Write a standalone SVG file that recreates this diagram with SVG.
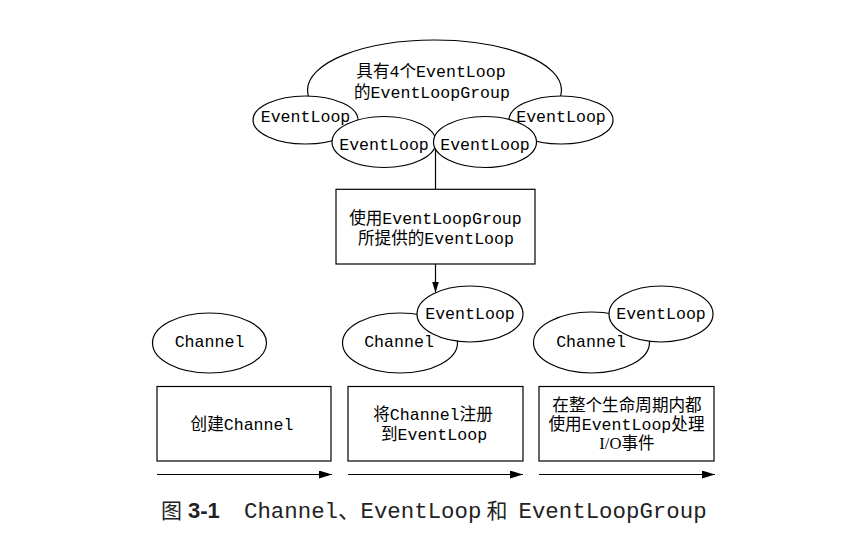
<svg xmlns="http://www.w3.org/2000/svg" width="855" height="538" viewBox="0 0 855 538">
<style>
  .shape { fill: #ffffff; stroke: #000000; stroke-width: 1.2; }
  .t { font-family: "Liberation Mono", "Noto Sans CJK SC", monospace; font-size: 16.6px; fill: #000000; text-anchor: middle; }
  .serif { font-family: "Liberation Serif", "Noto Sans CJK SC", serif; }
  .line { fill: none; stroke: #000000; stroke-width: 1.2; }
  .cap { font-family: "Liberation Mono", "Noto Sans CJK SC", monospace; font-size: 22.4px; fill: #222222; }
  .capcjk { font-family: "Noto Sans CJK SC", sans-serif; font-size: 21px; fill: #222222; }
  .capnum { font-family: "Liberation Sans", Arial, sans-serif; font-size: 22px; font-weight: bold; fill: #222222; }
</style>
<defs>
  <marker id="arrow" markerWidth="14" markerHeight="10" refX="13" refY="4" orient="auto" markerUnits="userSpaceOnUse">
    <path d="M0,0 L13,4 L0,8 Z" fill="#000000"/>
  </marker>
  <marker id="arrowDown" markerWidth="12" markerHeight="8" refX="11" refY="3.5" orient="auto" markerUnits="userSpaceOnUse">
    <path d="M0,0 L11,3.5 L0,7 Z" fill="#000000"/>
  </marker>
</defs>
<rect width="855" height="538" fill="#ffffff"/>

<g id="connectors">
  <line class="line" x1="435.5" y1="148" x2="435.5" y2="189.3"/>
  <line class="line" x1="435.5" y1="264" x2="435.5" y2="292.5" marker-end="url(#arrowDown)"/>
  <line class="line" x1="157" y1="474.5" x2="332" y2="474.5" marker-end="url(#arrow)"/>
  <line class="line" x1="348" y1="474.5" x2="523" y2="474.5" marker-end="url(#arrow)"/>
  <line class="line" x1="539" y1="474.5" x2="715" y2="474.5" marker-end="url(#arrow)"/>
</g>

<g id="eventLoopGroup">
  <ellipse class="shape" cx="434.5" cy="90" rx="127" ry="50"/>
  <text class="t" x="431" y="76.5">具有4个EventLoop</text>
  <text class="t" x="432" y="98">的EventLoopGroup</text>
</g>
<g id="eventLoop1">
  <ellipse class="shape" cx="305.5" cy="120" rx="52.5" ry="24"/>
  <text class="t" x="305.5" y="122">EventLoop</text>
</g>
<g id="eventLoop4">
  <ellipse class="shape" cx="561" cy="120" rx="52" ry="24"/>
  <text class="t" x="561" y="122">EventLoop</text>
</g>
<g id="eventLoop2">
  <ellipse class="shape" cx="384" cy="142" rx="52" ry="25.5"/>
  <text class="t" x="384" y="150">EventLoop</text>
</g>
<g id="eventLoop3">
  <ellipse class="shape" cx="485" cy="142" rx="51.5" ry="25.5"/>
  <text class="t" x="485" y="150">EventLoop</text>
</g>

<g id="assignBox">
  <rect class="shape" x="336" y="189.3" width="199" height="74.7"/>
  <text class="t" x="435.5" y="223.5">使用EventLoopGroup</text>
  <text class="t" x="436" y="243.5">所提供的EventLoop</text>
</g>

<g id="channel1">
  <ellipse class="shape" cx="209.5" cy="343" rx="57" ry="30"/>
  <text class="t" x="209.5" y="347">Channel</text>
</g>

<g id="channel2">
  <ellipse class="shape" cx="400" cy="343" rx="57.5" ry="30"/>
  <text class="t" x="399" y="347">Channel</text>
</g>
<g id="eventLoop2b">
  <ellipse class="shape" cx="470" cy="314" rx="53" ry="28"/>
  <text class="t" x="470" y="319">EventLoop</text>
</g>

<g id="channel3">
  <ellipse class="shape" cx="591.5" cy="342.5" rx="58" ry="30.5"/>
  <text class="t" x="591" y="347">Channel</text>
</g>
<g id="eventLoop3b">
  <ellipse class="shape" cx="661" cy="314" rx="52" ry="28"/>
  <text class="t" x="661" y="319">EventLoop</text>
</g>

<g id="step1">
  <rect class="shape" x="157" y="386.5" width="174" height="74.5"/>
  <text class="t" x="242" y="429.5">创建Channel</text>
</g>
<g id="step2">
  <rect class="shape" x="348" y="386.5" width="175" height="74.5"/>
  <text class="t" x="433" y="419.5">将Channel注册</text>
  <text class="t" x="434" y="439.5">到EventLoop</text>
</g>
<g id="step3">
  <rect class="shape" x="539" y="386.5" width="175" height="74.5"/>
  <text class="t" x="627" y="411">在整个生命周期内都</text>
  <text class="t" x="626.5" y="430">使用EventLoop处理</text>
  <text class="t" x="627" y="449"><tspan class="serif">I/O</tspan>事件</text>
</g>

<g id="caption">
  <text class="capcjk" x="161" y="518">图</text>
  <text class="capnum" x="188" y="518">3-1</text>
  <text class="cap" x="244" y="518">Channel、EventLoop</text>
  <text class="capcjk" x="486.5" y="518">和</text>
  <text class="cap" x="518.5" y="518">EventLoopGroup</text>
</g>
</svg>
